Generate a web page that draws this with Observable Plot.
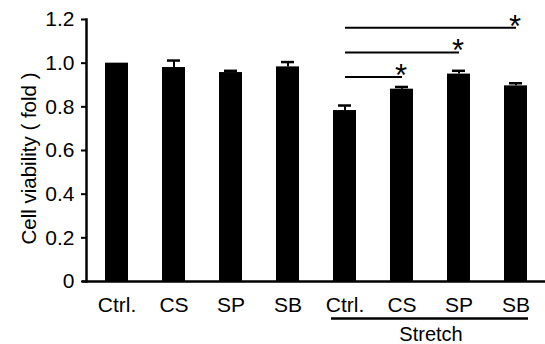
<!DOCTYPE html>
<html>
<head>
<meta charset="utf-8">
<script src="https://cdn.jsdelivr.net/npm/d3@7"></script>
<script src="https://cdn.jsdelivr.net/npm/@observablehq/plot@0.6"></script>
<style>
  html, body { margin: 0; padding: 0; background: #fff; }
  svg { font-family: Arial, "Liberation Sans", sans-serif; }
  svg g[aria-label="y-axis tick label"] text { font-size: 21px; }
  svg g[aria-label="x-axis tick label"] text { font-size: 21px; }
</style>
</head>
<body>
<div id="chart"></div>
<script>
// Data
const groups = ["Ctrl.", "CS", "SP", "SB", "Ctrl.", "CS", "SP", "SB"];
const conditions = ["Control", "Control", "Control", "Control", "Stretch", "Stretch", "Stretch", "Stretch"];
const viability = [1.0, 0.98, 0.957, 0.983, 0.783, 0.881, 0.950, 0.896];
const errors = [0, 0.032, 0.008, 0.022, 0.023, 0.010, 0.015, 0.012];
const yTicks = [0, 0.2, 0.4, 0.6, 0.8, 1.0, 1.2];
const yTitle = "Cell viability ( fold )";
const groupTitle = "Stretch";
// significance comparisons: bar index from -> to, bracket height (fold)
const compFrom = [4, 4, 4];
const compTo = [5, 6, 7];
const compY = [0.937, 1.049, 1.162];
const compMark = ["*", "*", "*"];

const idx = groups.map((_, i) => i);
const data = idx.map(i => ({i, group: groups[i], condition: conditions[i], v: viability[i], e: errors[i]}));
const errData = data.filter(d => d.e > 0);
const comps = compFrom.map((f, k) => ({from: f, to: compTo[k], y: compY[k], mark: compMark[k]}));
const stretchIdx = idx.filter(i => conditions[i] === "Stretch");
const stretchSpan = [{x1: stretchIdx[0], x2: stretchIdx[stretchIdx.length - 1], label: groupTitle}];

const chart = Plot.plot({
  width: 545,
  height: 344,
  marginLeft: 86,
  marginRight: 0,
  marginTop: 19,
  marginBottom: 63,
  style: {fontFamily: 'Arial, "Liberation Sans", sans-serif', background: "#fff", color: "#000", overflow: "visible"},
  x: {domain: idx, padding: 0.6, paddingOuter: 0.28, axis: null},
  y: {domain: [0, 1.2], axis: null},
  marks: [
    Plot.barY(data, {x: "i", y: "v", fill: "#000"}),
    Plot.ruleX(errData, {x: "i", y1: "v", y2: d => d.v + d.e, stroke: "#000", strokeWidth: 2}),
    Plot.tickY(errData, {x: "i", y: d => d.v + d.e, stroke: "#000", strokeWidth: 2.5, insetLeft: 5, insetRight: 5}),
    Plot.frame({anchor: "left", stroke: "#000", strokeWidth: 2.5}),
    Plot.ruleY([0], {stroke: "#000", strokeWidth: 2.5, insetLeft: -4}),
    Plot.axisY({ticks: yTicks, tickFormat: d => d === 0 ? "0" : d.toFixed(1), tickSize: 5, tickPadding: 7, fontSize: 21, strokeWidth: 2, label: null}),
    Plot.text([yTitle], {frameAnchor: "left", text: d => d, rotate: -90, textAnchor: "middle", dx: -57, dy: 8, fontSize: 20.5, fill: "#000"}),
    Plot.axisX({tickFormat: i => groups[i], tickSize: 0, tickPadding: 16, fontSize: 21, label: null}),
    Plot.link(comps, {x1: "from", x2: "to", y1: "y", y2: "y", stroke: "#000", strokeWidth: 2}),
    Plot.text(comps, {x: "to", y: "y", text: "mark", fontSize: 31, dy: 9, dx: -1, lineAnchor: "bottom", fill: "#000"}),
    Plot.ruleY(stretchSpan, {x1: "x1", x2: "x2", y: 0, dy: 37, stroke: "#000", strokeWidth: 2.5, insetLeft: -2, insetRight: -1}),
    Plot.text(stretchSpan, {x: "x1", y: 0, text: "label", dy: 53, dx: 86, fontSize: 20, fill: "#000"})
  ]
});
document.getElementById("chart").appendChild(chart);
</script>
</body>
</html>
